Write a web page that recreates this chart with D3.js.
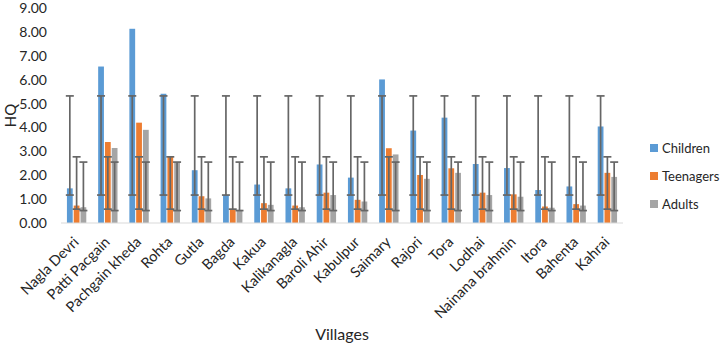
<!DOCTYPE html>
<html>
<head>
<meta charset="utf-8">
<script src="https://cdn.jsdelivr.net/npm/d3@7"></script>
<style>
  body { margin: 0; background: #fff; }
  text { font-family: Lato, "Open Sans", sans-serif; fill: #262626; }
</style>
</head>
<body>
<script>
// chart size
var w = 724;
var h = 345;
var margin = { top: 8, right: 101, bottom: 122, left: 61 };

// data
var villages = ["Nagla Devri", "Patti Pacgain", "Pachgain kheda", "Rohta", "Gutla", "Bagda",
  "Kakua", "Kalikanagla", "Baroli Ahir", "Kabulpur", "Saimary", "Rajori", "Tora", "Lodhai",
  "Nainana brahmin", "Itora", "Bahenta", "Kahrai"];
var series = ["Children", "Teenagers", "Adults"];
var children  = [1.45, 6.55, 8.13, 5.41, 2.21, 1.17, 1.61, 1.45, 2.45, 1.90, 6.01, 3.87, 4.41, 2.47, 2.30, 1.38, 1.53, 4.04];
var teenagers = [0.73, 3.39, 4.20, 2.77, 1.12, 0.59, 0.83, 0.73, 1.27, 0.97, 3.13, 2.01, 2.29, 1.27, 1.20, 0.69, 0.79, 2.10];
var adults    = [0.66, 3.14, 3.90, 2.55, 1.03, 0.55, 0.76, 0.66, 1.17, 0.90, 2.87, 1.85, 2.10, 1.17, 1.10, 0.64, 0.73, 1.93];
// error bar ends (same for every village)
var errLow  = [1.17, 0.58, 0.52];
var errHigh = [5.32, 2.77, 2.55];
var yTicks = [0, 1, 2, 3, 4, 5, 6, 7, 8, 9];
var colors = ["#5B9BD5", "#ED7D31", "#A5A5A5"];

var values = [children, teenagers, adults];

var svg = d3.select("body")
  .append("svg")
  .attr("width", w)
  .attr("height", h);

var plotW = w - margin.left - margin.right;
var plotH = h - margin.top - margin.bottom;

var g = svg.append("g")
  .attr("transform", "translate(" + margin.left + "," + margin.top + ")");

var xScale = d3.scaleBand()
  .domain(villages)
  .range([0, plotW])
  .paddingInner(0.38)
  .paddingOuter(0.19);

var xInner = d3.scaleBand()
  .domain(series)
  .range([0, xScale.bandwidth()])
  .paddingInner(0.15);

var yScale = d3.scaleLinear()
  .domain([0, 9])
  .range([plotH, 0]);

// y axis labels, no line
var yAxis = g.append("g")
  .call(d3.axisLeft(yScale).tickValues(yTicks).tickFormat(d3.format(".2f")).tickSize(0).tickPadding(14));
yAxis.select(".domain").remove();
yAxis.selectAll("text")
  .attr("font-size", "14px")
  .attr("font-family", "Lato, sans-serif")
  .attr("fill", "#262626");

// bars
var groups = g.selectAll(".grp")
  .data(villages)
  .enter()
  .append("g")
  .attr("class", "grp")
  .attr("transform", function(d) { return "translate(" + xScale(d) + ",0)"; });

series.forEach(function(s, si) {
  groups.append("rect")
    .attr("x", xInner(s))
    .attr("y", function(d, i) { return yScale(values[si][i]); })
    .attr("width", xInner.bandwidth())
    .attr("height", function(d, i) { return plotH - yScale(values[si][i]); })
    .attr("fill", colors[si]);
});

// error bars
var capW = 4;
series.forEach(function(s, si) {
  var cx = xInner(s) + xInner.bandwidth() / 2;
  groups.append("line")
    .attr("x1", cx).attr("x2", cx)
    .attr("y1", yScale(errLow[si])).attr("y2", yScale(errHigh[si]))
    .attr("stroke", "#666666").attr("stroke-width", 1.7);
  [errLow[si], errHigh[si]].forEach(function(v) {
    groups.append("line")
      .attr("x1", cx - capW).attr("x2", cx + capW)
      .attr("y1", yScale(v)).attr("y2", yScale(v))
      .attr("stroke", "#666666").attr("stroke-width", 1.7);
  });
});

// x axis line
g.append("line")
  .attr("x1", 0).attr("x2", plotW)
  .attr("y1", plotH).attr("y2", plotH)
  .attr("stroke", "#d9d9d9").attr("stroke-width", 1.2);

// x labels rotated
g.selectAll(".xlab")
  .data(villages)
  .enter()
  .append("text")
  .attr("class", "xlab")
  .attr("text-anchor", "end")
  .attr("font-size", "14.5px")
  .attr("transform", function(d) {
    var x = xScale(d) + xScale.bandwidth() / 2 + 3;
    return "translate(" + x + "," + (plotH + 20) + ") rotate(-45)";
  })
  .text(function(d) { return d; });

// axis titles
svg.append("text")
  .attr("x", margin.left + plotW / 2)
  .attr("y", 340)
  .attr("text-anchor", "middle")
  .attr("font-size", "16px")
  .text("Villages");

svg.append("text")
  .attr("transform", "translate(16," + (margin.top + plotH / 2) + ") rotate(-90)")
  .attr("text-anchor", "middle")
  .attr("font-size", "15px")
  .text("HQ");

// legend
var legend = svg.append("g")
  .attr("transform", "translate(650,144)");

legend.selectAll("rect")
  .data(series)
  .enter()
  .append("rect")
  .attr("x", 0)
  .attr("y", function(d, i) { return i * 28; })
  .attr("width", 8)
  .attr("height", 8)
  .attr("fill", function(d, i) { return colors[i]; });

legend.selectAll("text")
  .data(series)
  .enter()
  .append("text")
  .attr("x", 12)
  .attr("y", function(d, i) { return i * 28 + 4; })
  .attr("dy", "0.35em")
  .attr("font-size", "13px")
  .text(function(d) { return d; });
</script>
</body>
</html>
